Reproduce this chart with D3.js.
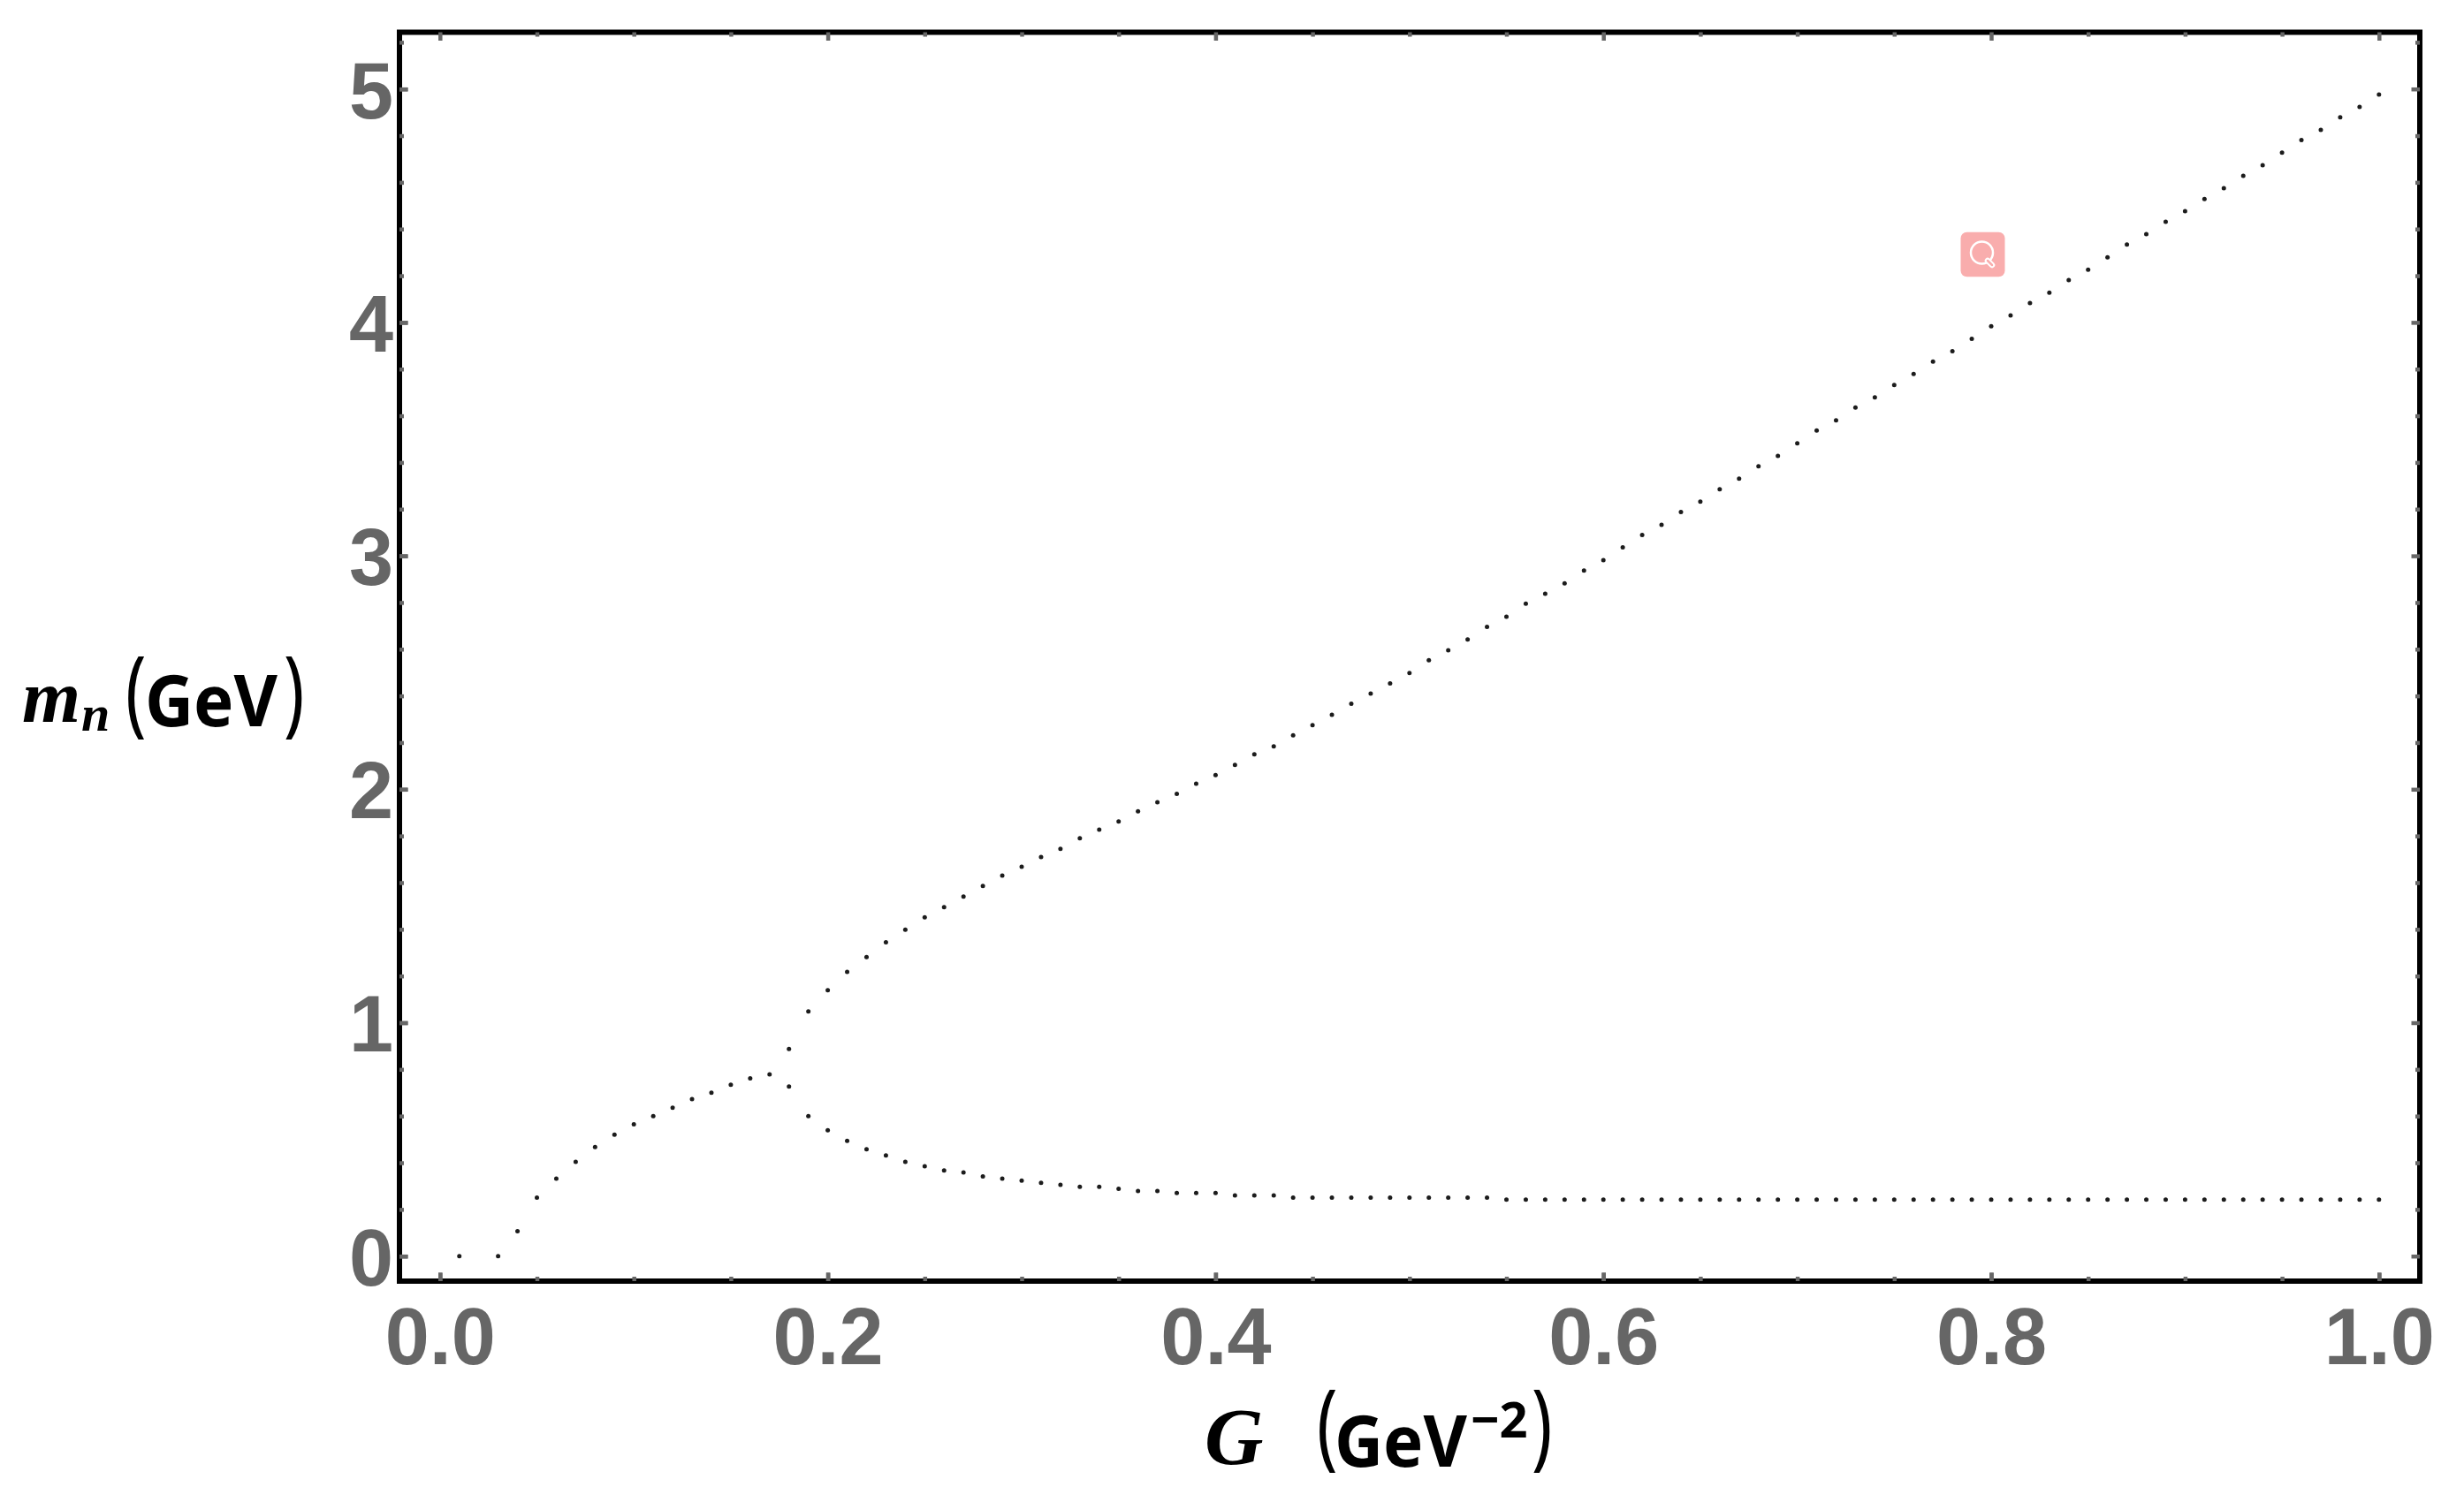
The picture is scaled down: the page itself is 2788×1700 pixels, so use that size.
<!DOCTYPE html>
<html>
<head>
<meta charset="utf-8">
<title>m_n vs G</title>
<script src="https://cdn.jsdelivr.net/npm/d3@7"></script>
<style>
  html, body { margin: 0; padding: 0; background: #fff; }
  svg { display: block; }
  .ticklabels text { font-family: "Liberation Sans", sans-serif; font-weight: 700; font-size: 90px; fill: #666; }
  .sym { font-family: "Liberation Serif", serif; font-weight: 700; font-style: italic; fill: #000; }
  .unit { font-family: "Noto Sans", sans-serif; font-weight: 700; fill: #000; }
  .paren { font-family: "Noto Sans", sans-serif; font-weight: 400; font-size: 78px; fill: #000; }
</style>
</head>
<body>
<div id="chart"></div>
<script>
// values
var startG = [0.01, 0.03, 0.04, 0.05, 0.06, 0.07, 0.08, 0.09, 0.10, 0.11, 0.12, 0.13, 0.14, 0.15, 0.16, 0.17];
var startM = [0, 0, 0.107, 0.251, 0.332, 0.404, 0.467, 0.52, 0.565, 0.60, 0.636, 0.673, 0.70, 0.734, 0.762, 0.779];

var upperG = [0.18, 0.19, 0.20, 0.21, 0.22, 0.23, 0.24, 0.25, 0.26, 0.27, 0.28, 0.29, 0.30, 0.31, 0.32, 0.33, 0.34, 0.35, 0.36, 0.37,
  0.38, 0.39, 0.40, 0.41, 0.42, 0.43, 0.44, 0.45, 0.46, 0.47, 0.48, 0.49, 0.50, 0.51, 0.52, 0.53, 0.54, 0.55, 0.56, 0.57,
  0.58, 0.59, 0.60, 0.61, 0.62, 0.63, 0.64, 0.65, 0.66, 0.67, 0.68, 0.69, 0.70, 0.71, 0.72, 0.73, 0.74, 0.75, 0.76, 0.77,
  0.78, 0.79, 0.80, 0.81, 0.82, 0.83, 0.84, 0.85, 0.86, 0.87, 0.88, 0.89, 0.90, 0.91, 0.92, 0.93, 0.94, 0.95, 0.96, 0.97,
  0.98, 0.99, 1.00];
var upperM = [0.887, 1.048, 1.139, 1.218, 1.281, 1.344, 1.398, 1.451, 1.495, 1.540, 1.586, 1.630, 1.668, 1.710, 1.745, 1.790, 1.827, 1.862, 1.906, 1.944,
  1.980, 2.024, 2.061, 2.104, 2.150, 2.184, 2.231, 2.275, 2.319, 2.366, 2.410, 2.453, 2.498, 2.553, 2.595, 2.642, 2.696, 2.739, 2.795, 2.838,
  2.882, 2.937, 2.981, 3.036, 3.089, 3.133, 3.188, 3.232, 3.285, 3.331, 3.384, 3.428, 3.482, 3.537, 3.580, 3.635, 3.679, 3.732, 3.779, 3.832,
  3.877, 3.930, 3.984, 4.030, 4.083, 4.127, 4.181, 4.226, 4.279, 4.334, 4.378, 4.431, 4.477, 4.529, 4.575, 4.628, 4.673, 4.727, 4.781, 4.825,
  4.879, 4.923, 4.976];

var lowerG = [0.18, 0.19, 0.20, 0.21, 0.22, 0.23, 0.24, 0.25, 0.26, 0.27, 0.28, 0.29, 0.30, 0.31, 0.32, 0.33, 0.34, 0.35, 0.36, 0.37,
  0.38, 0.39, 0.40, 0.41, 0.42, 0.43, 0.44, 0.45, 0.46, 0.47, 0.48, 0.49, 0.50, 0.51, 0.52, 0.53, 0.54, 0.55, 0.56, 0.57,
  0.58, 0.59, 0.60, 0.61, 0.62, 0.63, 0.64, 0.65, 0.66, 0.67, 0.68, 0.69, 0.70, 0.71, 0.72, 0.73, 0.74, 0.75, 0.76, 0.77,
  0.78, 0.79, 0.80, 0.81, 0.82, 0.83, 0.84, 0.85, 0.86, 0.87, 0.88, 0.89, 0.90, 0.91, 0.92, 0.93, 0.94, 0.95, 0.96, 0.97,
  0.98, 0.99, 1.00];
var lowerM = [0.727, 0.60, 0.539, 0.494, 0.458, 0.431, 0.404, 0.385, 0.367, 0.358, 0.341, 0.332, 0.323, 0.314, 0.305, 0.297, 0.297, 0.288, 0.279, 0.279,
  0.270, 0.270, 0.270, 0.26, 0.26, 0.26, 0.251, 0.251, 0.251, 0.251, 0.251, 0.251, 0.251, 0.251, 0.251, 0.251, 0.251, 0.242, 0.242, 0.242,
  0.242, 0.242, 0.242, 0.242, 0.242, 0.242, 0.242, 0.242, 0.242, 0.242, 0.242, 0.242, 0.242, 0.242, 0.242, 0.242, 0.242, 0.242, 0.242, 0.242,
  0.242, 0.242, 0.242, 0.242, 0.242, 0.242, 0.242, 0.242, 0.242, 0.242, 0.242, 0.242, 0.242, 0.242, 0.242, 0.242, 0.242, 0.242, 0.242, 0.242,
  0.242, 0.242, 0.242];

var xMajor = [0, 0.2, 0.4, 0.6, 0.8, 1.0];
var xMinor = [0.05, 0.1, 0.15, 0.25, 0.3, 0.35, 0.45, 0.5, 0.55, 0.65, 0.7, 0.75, 0.85, 0.9, 0.95];
var yMajor = [0, 1, 2, 3, 4, 5];
var yMinor = [0.2, 0.4, 0.6, 0.8, 1.2, 1.4, 1.6, 1.8, 2.2, 2.4, 2.6, 2.8, 3.2, 3.4, 3.6, 3.8, 4.2, 4.4, 4.6, 4.8, 5.2];

var svgWidth = 2788, svgHeight = 1700;
var frame = {left: 452, right: 2738, top: 36.5, bottom: 1450};
var tickColor = "#666", dotColor = "#1c1c1c";

var svg = d3.select("#chart").append("svg")
  .attr("width", svgWidth).attr("height", svgHeight)
  .attr("viewBox", `0 0 ${svgWidth} ${svgHeight}`);
svg.append("rect").attr("width", svgWidth).attr("height", svgHeight).attr("fill", "#fff");

var xScale = d3.scaleLinear().domain([0, 1]).range([497.8, 2691.8]);
var yScale = d3.scaleLinear().domain([0, 5]).range([1421.7, 100.7]);

// frame goes under the ticks
svg.append("rect")
  .attr("x", frame.left).attr("y", frame.top)
  .attr("width", frame.right - frame.left).attr("height", frame.bottom - frame.top)
  .attr("fill", "none").attr("stroke", "#000").attr("stroke-width", 6);

// one helper for the four sides, ticks all point inward
function drawTicks(axisFn, scale, values, len, transform, labelled, padding) {
  var axis = axisFn(scale).tickValues(values).tickSizeOuter(0).tickSizeInner(-len).tickPadding(padding || 0);
  axis.tickFormat(labelled ? labelled : "");
  var g = svg.append("g").attr("class", "ticklabels").attr("transform", transform).call(axis);
  g.select(".domain").remove();
  g.selectAll("line").attr("stroke", tickColor).attr("stroke-width", 4.5);
  return g;
}

var sides = [
  [d3.axisBottom, xScale, xMajor, xMinor, `translate(0,${frame.bottom})`],
  [d3.axisTop, xScale, xMajor, xMinor, `translate(0,${frame.top})`],
  [d3.axisLeft, yScale, yMajor, yMinor, `translate(${frame.left},0)`],
  [d3.axisRight, yScale, yMajor, yMinor, `translate(${frame.right},0)`]
];
sides.forEach(function(s) {
  drawTicks(s[0], s[1], s[3], 5, s[4]);
  drawTicks(s[0], s[1], s[2], 9.5, s[4]);
});

// tick labels
drawTicks(d3.axisBottom, xScale, xMajor, 9.5, `translate(0,${frame.bottom})`, d3.format(".1f"), 30);
var leftLabels = drawTicks(d3.axisLeft, yScale, yMajor, 9.5, `translate(${frame.left},0)`, d3.format("d"), 7);
leftLabels.selectAll("text").attr("dy", "0.36em");

// points
var allPoints = []
  .concat(startG.map((g, i) => ({g: g, m: startM[i]})))
  .concat(upperG.map((g, i) => ({g: g, m: upperM[i]})))
  .concat(lowerG.map((g, i) => ({g: g, m: lowerM[i]})));
svg.append("g").selectAll("circle").data(allPoints).enter().append("circle")
  .attr("cx", d => xScale(d.g))
  .attr("cy", d => yScale(d.m))
  .attr("r", 2.5)
  .attr("fill", dotColor);

// tall thin brackets: normal glyph stretched vertically
function paren(parent, ch, x, y) {
  parent.append("text").attr("class", "paren")
    .attr("transform", `translate(${x},${y}) scale(1,1.39)`).text(ch);
}

// y axis title
var yTitle = svg.append("g");
yTitle.append("text").attr("class", "sym").attr("x", 25).attr("y", 816.7).attr("font-size", 85).text("m");
yTitle.append("text").attr("class", "sym").attr("x", 92).attr("y", 826.7).attr("font-size", 58).text("n");
paren(yTitle, "(", 142, 819.7);
yTitle.append("text").attr("class", "unit").attr("x", 164).attr("y", 821.7).attr("font-size", 80)
  .attr("textLength", 150).attr("lengthAdjust", "spacingAndGlyphs").text("GeV");
paren(yTitle, ")", 321, 819.7);

// x axis title
var xTitle = svg.append("g");
xTitle.append("text").attr("class", "sym").attr("x", 1363).attr("y", 1656.7).attr("font-size", 92).text("G");
paren(xTitle, "(", 1490, 1649.7);
xTitle.append("text").attr("class", "unit").attr("x", 1510).attr("y", 1660).attr("font-size", 80)
  .attr("textLength", 150).attr("lengthAdjust", "spacingAndGlyphs").text("GeV");
xTitle.append("text").attr("class", "unit").attr("x", 1664).attr("y", 1627).attr("font-size", 56).text("\u22122");
paren(xTitle, ")", 1733, 1649.7);

// pink magnifier badge
var badge = svg.append("g");
badge.append("rect").attr("x", 2218.5).attr("y", 262.7).attr("width", 50).attr("height", 50.6).attr("rx", 7).attr("fill", "#f9adad");
badge.append("circle").attr("cx", 2242.5).attr("cy", 286).attr("r", 12.5).attr("fill", "none").attr("stroke", "#fff").attr("stroke-width", 2.5);
badge.append("line").attr("x1", 2249).attr("y1", 295).attr("x2", 2254).attr("y2", 300).attr("stroke", "#fff").attr("stroke-width", 6.5).attr("stroke-linecap", "round");
badge.append("line").attr("x1", 2249).attr("y1", 295).attr("x2", 2254).attr("y2", 300).attr("stroke", "#f9adad").attr("stroke-width", 2.5).attr("stroke-linecap", "round");
</script>
</body>
</html>
